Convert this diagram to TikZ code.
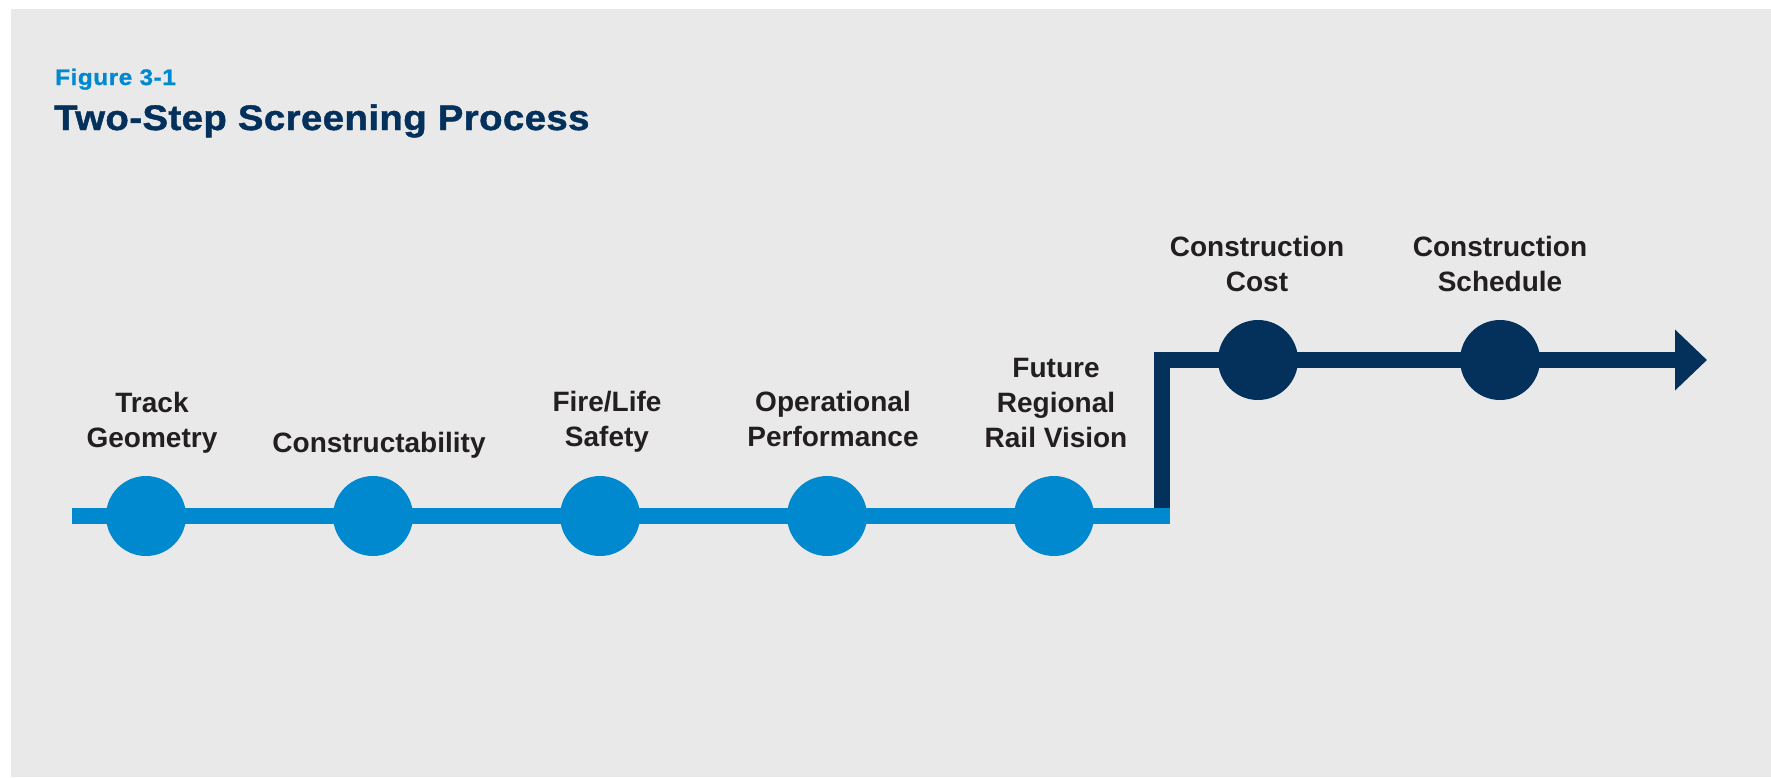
\documentclass[tikz,border=0pt]{standalone}
\usepackage{fontspec}
\setmainfont{Liberation Sans}
\newfontfamily\titlefont[FakeStretch=1.08,LetterSpace=1.2,FakeBold=1.3]{Liberation Sans Bold}
\newfontfamily\figfont[FakeStretch=1.08,LetterSpace=2.5,FakeBold=1.0]{Liberation Sans Bold}
\usetikzlibrary{arrows.meta}
\definecolor{bgGray}{HTML}{E9E9E9}
\definecolor{stepBlue}{HTML}{0089CF}
\definecolor{stepNavy}{HTML}{03315C}
\definecolor{labelInk}{HTML}{231F20}
\tikzset{
  bluedot/.style={circle,fill=stepBlue,minimum size=80pt,inner sep=0pt},
  navydot/.style={circle,fill=stepNavy,minimum size=80pt,inner sep=0pt},
  bluerail/.style={stepBlue,line width=16pt},
  navyrail/.style={stepNavy,line width=16pt},
  steplabel/.style={anchor=south,inner sep=0pt,text depth=0pt,align=center,
    text=labelInk,font=\fontsize{28}{35}\selectfont\bfseries},
}
\begin{document}
\begin{tikzpicture}[x=1pt,y=-1pt]
\useasboundingbox (0,0) rectangle (1771,777);
\fill[white] (0,0) rectangle (1771,777);
\fill[bgGray] (11,9) rectangle (1771,777);
% title
\node[anchor=base west,inner sep=0pt,text=stepBlue,font=\figfont\fontsize{22.5}{27}\selectfont] (fig) at (55,85) {Figure 3-1};
\node[anchor=base west,inner sep=0pt,text=stepNavy,font=\titlefont\fontsize{35.5}{42}\selectfont] (title) at (54,130) {Two-Step Screening Process};
% rails
\coordinate (bstart) at (72,516);
\coordinate (bend) at (1170,516);
\coordinate (nstart) at (1162,516);
\coordinate (ntip) at (1707,360);
\draw[navyrail,-{Triangle[length=32pt,width=59pt]}] (nstart) |- (ntip);
\draw[bluerail] (bstart) -- (bend);
% step one
\node[bluedot] (c1) at (146,516) {};
\node[bluedot] (c2) at (373,516) {};
\node[bluedot] (c3) at (600,516) {};
\node[bluedot] (c4) at (827,516) {};
\node[bluedot] (c5) at (1054,516) {};
% step two
\node[navydot] (d1) at (1258,360) {};
\node[navydot] (d2) at (1500,360) {};
% labels
\node[steplabel] (l1) at (152,448) {Track\\Geometry};
\node[steplabel] (l2) at (379,453) {Constructability};
\node[steplabel] (l3) at (607,447) {Fire/Life\\Safety};
\node[steplabel] (l4) at (833,447) {Operational\\Performance};
\node[steplabel] (l5) at (1056,448) {Future\\Regional\\Rail Vision};
\node[steplabel] (l6) at (1257,292) {Construction\\Cost};
\node[steplabel] (l7) at (1500,292) {Construction\\Schedule};
\end{tikzpicture}
\end{document}
